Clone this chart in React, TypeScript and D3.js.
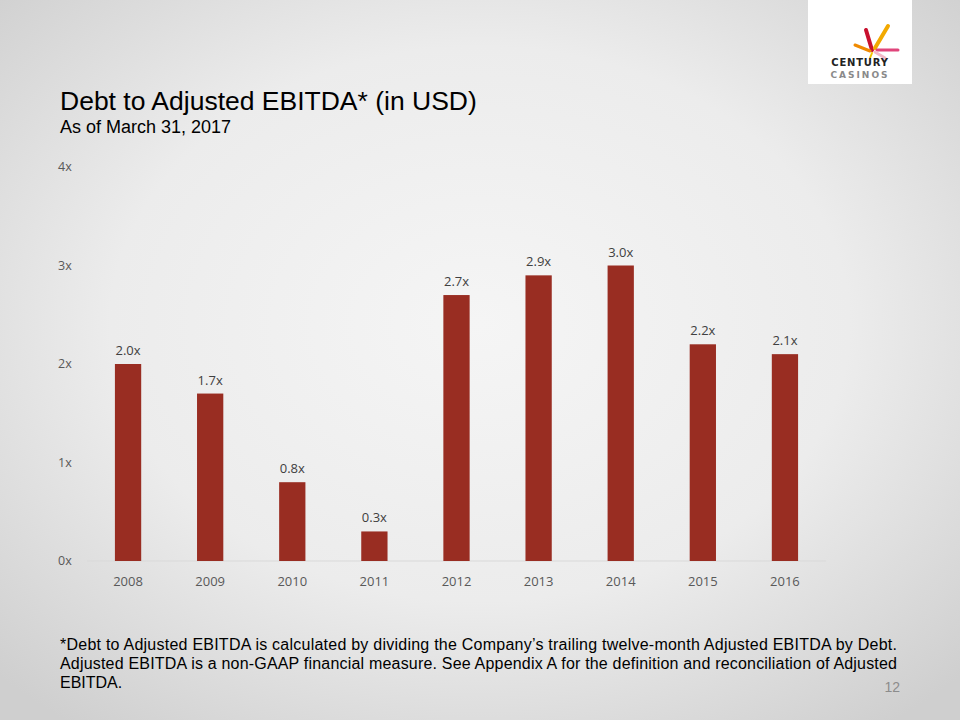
import React from "react";
import * as d3 from "d3";

const years = ["2008", "2009", "2010", "2011", "2012", "2013", "2014", "2015", "2016"];
const ratios = [2.0, 1.7, 0.8, 0.3, 2.7, 2.9, 3.0, 2.2, 2.1];
const yTicks = [0, 1, 2, 3, 4];

const footnoteLines = [
  "*Debt to Adjusted EBITDA is calculated by dividing the Company\u2019s trailing twelve-month Adjusted EBITDA by Debt.",
  "Adjusted EBITDA is a non-GAAP financial measure. See Appendix A for the definition and reconciliation of Adjusted",
  "EBITDA.",
];

const W = 960;
const H = 720;
const chartLeft = 87;
const chartRight = 826;
const chartTop = 167;
const chartBottom = 561;
const labelFont = "'Open Sans', Lato, sans-serif";
const narrowFont = "'Liberation Sans Narrow', 'Arial Narrow', 'Liberation Sans', sans-serif";

export default function App() {
  const x = d3.scaleBand<string>().domain(years).range([chartLeft, chartRight]).paddingInner(0.68).paddingOuter(0.34);
  const y = d3.scaleLinear().domain([0, 4]).range([chartBottom, chartTop]);

  return (
    <svg
      width={W}
      height={H}
      style={{ position: "absolute", left: 0, top: 0, display: "block" }}
    >
      <defs>
        <radialGradient id="bg" cx="50%" cy="45%" r="70%">
          <stop offset="0%" stopColor="#f5f5f5" />
          <stop offset="55%" stopColor="#ececec" />
          <stop offset="100%" stopColor="#cfcfcf" />
        </radialGradient>
      </defs>
      <rect width={W} height={H} fill="url(#bg)" />

      {/* logo */}
      <g>
        <rect x={808} y={0} width={104} height={84} fill="#ffffff" />
        <path d="M872,50 L866,30" stroke="#c8102e" strokeWidth={4} strokeLinecap="round" />
        <path d="M875,48 L888,26" stroke="#f2a900" strokeWidth={4} strokeLinecap="round" />
        <path d="M870,51 L855,45" stroke="#f08a00" strokeWidth={3} strokeLinecap="round" />
        <path d="M877,50 L898,50" stroke="#e0457b" strokeWidth={3} strokeLinecap="round" />
        <path d="M875,52 L885,58" stroke="#f2b9c8" strokeWidth={3} strokeLinecap="round" />
        <path d="M872,53 L870,58" stroke="#f2c300" strokeWidth={2} strokeLinecap="round" />
        <text x={860} y={66} textAnchor="middle" fontFamily="'DejaVu Sans', sans-serif" fontWeight="bold" fontSize={10} letterSpacing={0.8} fill="#222">
          CENTURY
        </text>
        <text x={860} y={78} textAnchor="middle" fontFamily="'DejaVu Sans', sans-serif" fontWeight="bold" fontSize={9} letterSpacing={2} fill="#8a8a8a">
          CASINOS
        </text>
      </g>

      {/* title */}
      <text x={60} y={110} fontFamily="'Liberation Sans', Arial, sans-serif" fontSize={26.5} fill="#000">
        Debt to Adjusted EBITDA* (in USD)
      </text>
      <text x={60} y={133} fontFamily="'Liberation Sans', Arial, sans-serif" fontSize={18} fill="#000">
        As of March 31, 2017
      </text>

      {/* y axis labels */}
      {yTicks.map((t) => (
        <text key={t} x={58} y={y(t)} dy="0.35em" fontFamily={labelFont} fontSize={12.5} fill="#595959">
          {t}x
        </text>
      ))}

      {/* baseline */}
      <line x1={chartLeft} x2={chartRight} y1={y(0)} y2={y(0)} stroke="#d9d9d9" strokeWidth={1} />

      {/* bars */}
      {years.map((yr, i) => (
        <g key={yr}>
          <rect
            x={x(yr)!}
            y={y(ratios[i])}
            width={x.bandwidth()}
            height={y(0) - y(ratios[i])}
            fill="#992d22"
          />
          <text
            x={x(yr)! + x.bandwidth() / 2}
            y={y(ratios[i]) - 9}
            textAnchor="middle"
            fontFamily={labelFont}
            fontSize={13}
            fill="#404040"
          >
            {ratios[i].toFixed(1)}x
          </text>
          <text
            x={x(yr)! + x.bandwidth() / 2}
            y={586}
            textAnchor="middle"
            fontFamily={labelFont}
            fontSize={13}
            fill="#595959"
          >
            {yr}
          </text>
        </g>
      ))}

      {/* footnote */}
      {footnoteLines.map((line, i) => (
        <text
          key={i}
          x={60}
          y={650 + i * 19}
          fontFamily={narrowFont}
          fontSize={16}
          fill="#000"
          textLength={i < 2 ? 837 : undefined}
          lengthAdjust="spacing"
        >
          {line}
        </text>
      ))}
      <text x={900} y={692} textAnchor="end" fontFamily={narrowFont} fontSize={14} fill="#8c8c8c">
        12
      </text>
    </svg>
  );
}
